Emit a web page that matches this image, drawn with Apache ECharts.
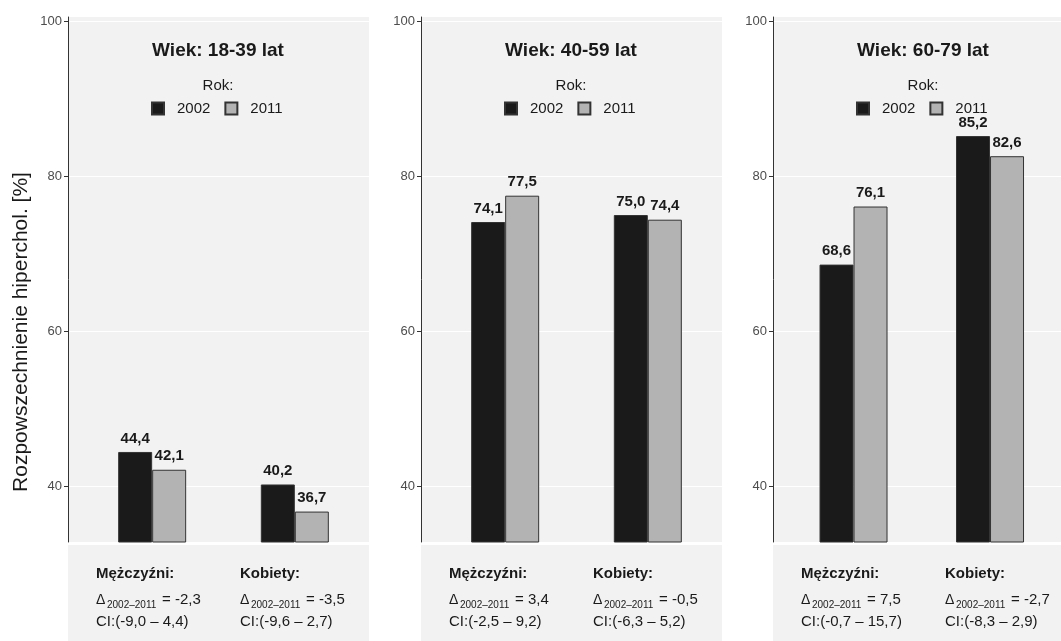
<!DOCTYPE html>
<html>
<head>
<meta charset="utf-8">
<script src="https://cdn.jsdelivr.net/npm/echarts@6/dist/echarts.min.js"></script>
<style>
  html, body { margin: 0; padding: 0; background: #ffffff; }
  #chart { width: 1061px; height: 641px; }
</style>
</head>
<body>
<div id="chart"></div>
<script>
// Age groups (one facet each), sex categories and survey years
const panelTitles = ['Wiek: 18-39 lat', 'Wiek: 40-59 lat', 'Wiek: 60-79 lat'];
const categories = ['Mężczyźni', 'Kobiety'];
const years = ['2002', '2011'];

// Prevalence [%] per panel, ordered as categories
const values2002 = [[44.4, 40.2], [74.1, 75.0], [68.6, 85.2]];
const values2011 = [[42.1, 36.7], [77.5, 74.4], [76.1, 82.6]];

// Change 2002→2011 with confidence interval, per panel and category
const deltas = [[-2.3, -3.5], [3.4, -0.5], [7.5, -2.7]];
const ciLow = [[-9.0, -9.6], [-2.5, -6.3], [-0.7, -8.3]];
const ciHigh = [[4.4, 2.7], [9.2, 5.2], [15.7, 2.9]];

const yTicks = [40, 60, 80, 100];
const yTitle = 'Rozpowszechnienie hiperchol. [%]';

const FONT = 'Liberation Sans, Arial, sans-serif';
const BG = '#f2f2f2';
const TXT = '#1a1a1a';
const COL2002 = '#1a1a1a';
const COL2011 = '#b3b3b3';

const fmt = v => v.toFixed(1).replace('.', ',');

// facet geometry
const panelLefts = [68, 421, 773];
const panelWidth = 301;
const plotTop = 17;
const plotBottom = 542;
const stripTop = 545;
const stripBottom = 641;

const grids = [], xAxes = [], yAxes = [], series = [], legends = [], graphics = [];

panelLefts.forEach((L, p) => {
  grids.push({
    left: L, top: plotTop, width: panelWidth, height: plotBottom - plotTop,
    show: true, backgroundColor: BG, borderWidth: 0
  });
  xAxes.push({
    gridIndex: p, type: 'value', min: 0.41, max: 2.52,
    show: false, splitLine: { show: false }
  });
  yAxes.push({
    gridIndex: p, type: 'value', min: 32.77, max: 100.58,
    axisLine: { show: true, lineStyle: { color: '#333333', width: 1 } },
    axisTick: { show: true, length: 4, customValues: yTicks, lineStyle: { color: '#333333' } },
    axisLabel: { customValues: yTicks, margin: 6, color: '#4d4d4d', fontSize: 13, fontFamily: FONT },
    splitLine: { show: true, lineStyle: { color: '#ffffff', width: 1 } }
  });

  const mk = (vals) => vals.map((v, i) => [i + 1, v]);
  const common = {
    type: 'bar', xAxisIndex: p, yAxisIndex: p,
    barWidth: 34, barGap: '0%',
    label: {
      show: true, position: 'top', distance: 6,
      formatter: d => fmt(d.value[1]),
      fontFamily: FONT, fontSize: 15, fontWeight: 'bold', color: TXT
    },
    emphasis: { disabled: true },
    animation: false
  };
  series.push(Object.assign({}, common, {
    name: years[0], data: mk(values2002[p]),
    itemStyle: { color: COL2002, borderColor: '#333333', borderWidth: 1 }
  }));
  series.push(Object.assign({}, common, {
    name: years[1], data: mk(values2011[p]),
    itemStyle: { color: COL2011, borderColor: '#333333', borderWidth: 1 }
  }));

  legends.push({
    data: years, left: L + 83, top: 101, padding: 0,
    icon: 'rect', itemWidth: 12, itemHeight: 12, itemGap: 14,
    selectedMode: false,
    textStyle: { fontFamily: FONT, fontSize: 15, color: TXT, padding: [0, 0, 0, 8] }
  });

  const cx = L + 150;
  graphics.push({
    type: 'text', x: cx, y: 51,
    style: { text: panelTitles[p], align: 'center', verticalAlign: 'middle',
      font: 'bold 19px ' + FONT, fill: TXT }
  });
  graphics.push({
    type: 'text', x: cx, y: 86,
    style: { text: 'Rok:', align: 'center', verticalAlign: 'middle',
      font: '15px ' + FONT, fill: TXT }
  });

  // strip below the plot
  graphics.push({
    type: 'rect', shape: { x: L, y: stripTop, width: panelWidth, height: stripBottom - stripTop },
    style: { fill: BG }, z: -1
  });
  categories.forEach((cat, c) => {
    const x0 = L + 28 + c * 144;
    graphics.push({
      type: 'text', x: x0, y: 574,
      style: { text: cat + ':', align: 'left', verticalAlign: 'middle',
        font: 'bold 15px ' + FONT, fill: TXT }
    });
    graphics.push({
      type: 'text', x: x0, y: 600,
      style: { text: 'Δ', align: 'left', verticalAlign: 'middle',
        font: '14px ' + FONT, fill: TXT }
    });
    graphics.push({
      type: 'text', x: x0 + 11, y: 605,
      style: { text: '2002–2011', align: 'left', verticalAlign: 'middle',
        font: '10px ' + FONT, fill: TXT }
    });
    graphics.push({
      type: 'text', x: x0 + 66, y: 600,
      style: { text: '= ' + fmt(deltas[p][c]), align: 'left', verticalAlign: 'middle',
        font: '15px ' + FONT, fill: TXT }
    });
    graphics.push({
      type: 'text', x: x0, y: 622,
      style: { text: 'CI:(' + fmt(ciLow[p][c]) + ' – ' + fmt(ciHigh[p][c]) + ')',
        align: 'left', verticalAlign: 'middle', font: '15px ' + FONT, fill: TXT }
    });
  });
});

graphics.push({
  type: 'text', x: 21, y: 332, rotation: Math.PI / 2,
  style: { text: yTitle, align: 'center', verticalAlign: 'middle',
    font: '21px ' + FONT, fill: TXT }
});

const chart = echarts.init(document.getElementById('chart'), null, { renderer: 'canvas' });
chart.setOption({
  backgroundColor: '#ffffff',
  animation: false,
  grid: grids,
  xAxis: xAxes,
  yAxis: yAxes,
  legend: legends,
  series: series,
  graphic: graphics
});
</script>
</body>
</html>
